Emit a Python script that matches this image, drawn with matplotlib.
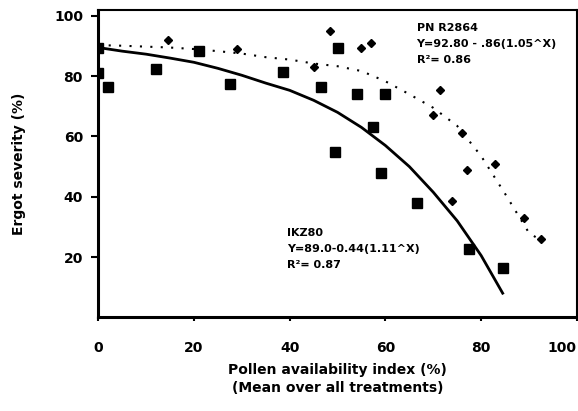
import matplotlib
matplotlib.use("Agg")
import matplotlib.pyplot as plt

# observed points, IKZ80 (squares) and PN R2864 (diamonds)
sq_x = [0, 0, 2, 12, 21, 27.5, 38.5, 46.5, 50, 54, 60, 57.5, 49.5, 59, 66.5, 77.5, 84.5]
sq_y = [89.5, 81, 76.5, 82.5, 88.5, 77.5, 81.5, 76.5, 89.5, 74, 74, 63, 55, 48, 38, 22.5, 16.5]

dm_x = [14.5, 29, 45, 48.5, 55, 57, 71.5, 70, 76, 77, 83, 74, 89, 92.5]
dm_y = [92, 89, 83, 95, 89.5, 91, 75.5, 67, 61, 49, 51, 38.5, 33, 26]

# fitted curves
fit1_x = [0, 5, 10, 15, 20, 25, 30, 35, 40, 45, 50, 55, 60, 65, 70, 75, 80, 84.5]
fit1_y = [89.5, 88.3, 87.3, 86, 84.6, 82.6, 80.3, 77.7, 75.3, 72, 68, 63, 57, 50, 41.5, 32, 20.5, 8]

fit2_x = [0, 5, 10, 15, 20, 25, 30, 35, 40, 45, 50, 55, 60, 65, 70, 75, 80, 85, 90, 92.5]
fit2_y = [90.3, 90.1, 89.8, 89.5, 89, 88.3, 87.5, 86.3, 85.5, 84.2, 83.3, 81.7, 78.3, 74,
          69.5, 63.5, 53.5, 41, 28, 25.5]

xticks = [0, 20, 40, 60, 80, 100]
yticks = [20, 40, 60, 80, 100]

fig = plt.figure(figsize=(5.78, 4.11), dpi=100)
ax = fig.add_axes([0.17, 0.228, 0.828, 0.748])

ax.plot(fit1_x, fit1_y, color="black", lw=2)
ax.plot(fit2_x, fit2_y, color="black", lw=1.5, linestyle=(0, (1, 4)))
ax.plot(sq_x, sq_y, "s", color="black", ms=7, linestyle="none")
ax.plot(dm_x, dm_y, "D", color="black", ms=4, linestyle="none")

ax.set_xlim(0, 100)
ax.set_ylim(0, 102)
ax.set_xticks(xticks)
ax.set_yticks(yticks)
ax.tick_params(axis="x", direction="out", length=3, width=1.5, pad=14, labelsize=10)
ax.tick_params(axis="y", direction="out", length=5, width=1.5, pad=6, labelsize=10)
for lab in ax.get_xticklabels() + ax.get_yticklabels():
    lab.set_fontweight("bold")
ax.get_xticklabels()[-1].set_horizontalalignment("right")

for side in ["left", "bottom"]:
    ax.spines[side].set_linewidth(2.2)
for side in ["top", "right"]:
    ax.spines[side].set_linewidth(1.5)

ax.set_xlabel("Pollen availability index (%)\n(Mean over all treatments)",
              fontsize=10, fontweight="bold", labelpad=6, linespacing=1.3)
ax.set_ylabel("Ergot severity (%)", fontsize=10, fontweight="bold", labelpad=20)

txt = dict(fontsize=8, fontweight="bold", va="top", linespacing=1.75)
ax.text(66.5, 97.5, "PN R2864\nY=92.80 - .86(1.05^X)\nR²= 0.86", **txt)
ax.text(39.5, 29.5, "IKZ80\nY=89.0-0.44(1.11^X)\nR²= 0.87", **txt)

fig.savefig("out.png", dpi=100)
